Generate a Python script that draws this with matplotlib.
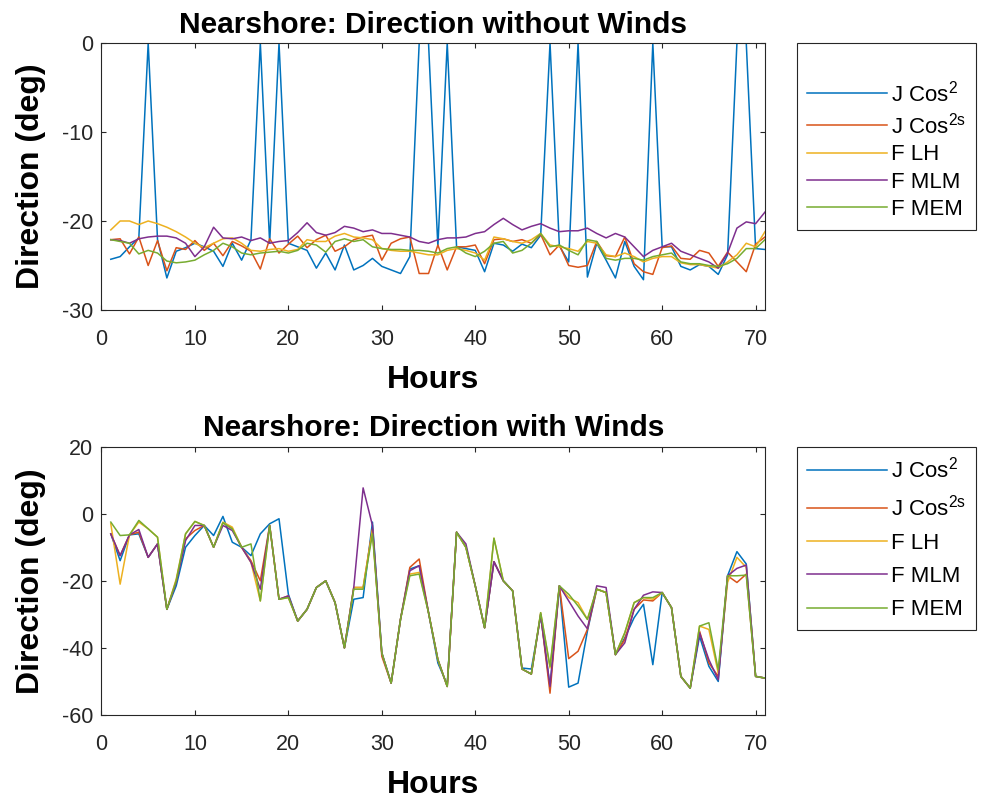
import numpy as np
import matplotlib
matplotlib.use("Agg")
import matplotlib.pyplot as plt

plt.rcParams['font.family'] = ['Liberation Sans', 'DejaVu Sans']
plt.rcParams['mathtext.default'] = 'regular'
plt.rcParams['axes.unicode_minus'] = False

# %% Hourly mean wave direction (deg) at the nearshore buoy
hours = np.arange(1, 72)

labels = ['J Cos$^2$', 'J Cos$^{2s}$', 'F LH', 'F MLM', 'F MEM']
colors = ['#0072BD', '#D95319', '#EDB120', '#7E2F8E', '#77AC30']

# without winds
nw_jcos2 = [-24.3, -24.0, -22.9, -21.9, 0, -22.1, -26.4, -23.4, -23.0, -22.5,
            -22.9, -23.4, -25.1, -22.5, -24.4, -22.1, 0, -22.5, 0, -22.5,
            -22.9, -23.3, -25.3, -23.6, -25.5, -22.7, -25.5, -25.0, -24.2, -25.1,
            -25.5, -25.9, -24.0, 0, 0, -22.9, 0, -22.9, -23.1, -23.3,
            -25.7, -22.5, -22.7, -23.4, -22.6, -23.0, -21.6, 0, -22.8, -24.6,
            0, -26.3, -22.5, -24.4, -26.4, -22.3, -25.1, -26.6, 0, -22.9,
            -22.9, -25.1, -25.5, -24.9, -25.1, -26.0, -23.8, 0, 0, -23.1, -23.2]
nw_jcos2s = [-22.1, -22.0, -23.7, -21.8, -25.0, -22.2, -25.6, -23.0, -23.2, -22.2,
             -23.3, -22.5, -23.9, -22.3, -22.8, -23.4, -25.4, -22.0, -23.6, -22.6,
             -21.7, -23.0, -22.1, -21.6, -23.4, -22.9, -22.1, -21.8, -21.6, -24.4,
             -22.5, -22.0, -21.8, -25.9, -25.9, -22.7, -25.5, -22.9, -22.9, -22.7,
             -24.8, -22.1, -22.0, -22.3, -22.1, -22.5, -21.5, -23.8, -22.7, -25.0,
             -25.2, -25.0, -22.3, -23.9, -24.0, -21.8, -24.8, -25.7, -26.0, -23.0,
             -22.8, -24.2, -24.3, -23.3, -23.6, -25.1, -23.5, -24.6, -25.7, -22.6, -21.8]
nw_flh = [-21.0, -20.0, -20.0, -20.4, -20.0, -20.3, -20.7, -21.2, -21.8, -22.5,
          -23.0, -22.5, -22.0, -21.9, -22.5, -23.3, -23.4, -23.2, -23.1, -23.4,
          -23.2, -22.1, -22.3, -22.3, -21.7, -21.4, -21.8, -21.9, -22.1, -23.1,
          -23.3, -23.4, -23.4, -23.6, -23.8, -23.8, -23.3, -23.1, -23.3, -23.6,
          -24.4, -21.8, -22.0, -22.3, -22.5, -22.1, -21.4, -22.7, -22.9, -23.1,
          -23.4, -22.3, -22.5, -23.8, -24.0, -23.6, -24.0, -24.6, -24.2, -24.0,
          -24.0, -24.7, -24.9, -24.9, -25.1, -25.3, -24.6, -23.8, -22.5, -22.9, -21.2]
nw_fmlm = [-22.1, -22.2, -22.5, -22.0, -21.8, -21.7, -21.7, -21.9, -22.5, -24.0,
           -22.9, -20.7, -21.9, -22.0, -21.8, -22.2, -21.9, -22.5, -22.3, -22.2,
           -21.3, -20.2, -21.3, -21.6, -21.3, -20.6, -20.8, -21.2, -21.0, -21.4,
           -21.4, -21.6, -21.8, -22.3, -22.5, -22.1, -21.9, -21.9, -21.8, -21.4,
           -21.2, -20.4, -19.7, -20.4, -21.0, -20.6, -20.3, -20.8, -21.2, -21.1,
           -21.1, -20.8, -21.4, -21.9, -21.4, -21.8, -22.9, -24.0, -23.3, -22.9,
           -22.5, -23.4, -23.8, -24.2, -24.6, -25.3, -23.6, -20.8, -20.1, -20.3, -19.0]
nw_fmem = [-22.1, -22.3, -22.5, -23.7, -23.3, -23.6, -24.5, -24.7, -24.6, -24.4,
           -23.8, -23.3, -22.5, -22.9, -23.6, -23.8, -23.6, -23.5, -23.4, -23.6,
           -23.3, -22.5, -22.7, -23.5, -22.3, -22.0, -22.3, -22.1, -22.9, -23.1,
           -23.2, -23.2, -23.3, -23.3, -23.4, -23.6, -23.1, -22.9, -23.6, -24.0,
           -23.4, -22.5, -22.3, -23.6, -23.3, -22.5, -21.4, -22.9, -22.7, -23.3,
           -23.8, -22.1, -22.3, -24.2, -24.4, -24.2, -24.2, -24.4, -24.0, -23.8,
           -23.6, -24.6, -24.8, -24.8, -25.0, -25.1, -24.8, -24.2, -23.1, -23.1, -22.1]

# with winds
ww_jcos2 = [-6, -14, -6.3, -6, -13, -9, -28.5, -21.5, -10, -6.5,
            -3.5, -6.5, -0.8, -8.5, -10, -12.5, -6, -3, -1.5, -24,
            -32, -28.5, -22, -20, -26.5, -40, -25.5, -25, -2.5, -41.5,
            -50.5, -31.5, -16.5, -15.5, -29.5, -44.5, -51, -5.5, -10, -21.5,
            -34, -14.3, -20, -23, -46, -46.3, -30.5, -51.5, -21.5, -51.7,
            -50.5, -35, -22.5, -23.5, -42, -37, -31, -27, -45, -23.5,
            -28, -48.5, -52, -36.5, -45.5, -50, -18.5, -11.3, -15, -48.5, -49]
ww_jcos2s = [-6, -12.5, -6.3, -5.5, -13, -9, -28.5, -20, -7.5, -5,
             -3.5, -10, -2.7, -4.5, -10, -14, -20, -3.5, -25.5, -24.5,
             -32, -28.5, -22, -20, -26.5, -40, -22, -22, -4.5, -42.5,
             -50.5, -31.5, -16, -13.5, -29.5, -43.5, -51.5, -5.5, -10, -21.5,
             -34, -14.3, -20, -23, -46.3, -47.8, -30, -53.5, -21.5, -43.2,
             -41, -34.5, -22.5, -23.5, -42, -37.5, -28.5, -25.7, -26, -23.5,
             -28, -48.5, -52, -35, -44.5, -48.5, -18.5, -20.5, -18, -48.5, -49]
ww_flh = [-3, -21, -6.3, -2.5, -4.5, -7, -28.5, -19.5, -6, -2.3,
          -3.5, -10, -2.5, -4, -10, -14.5, -26, -3.5, -25.5, -25,
          -32, -28.5, -22, -20, -26.5, -40, -22, -22, -5, -41.5,
          -50.5, -31.5, -18, -17.5, -29.5, -43.5, -51.5, -5.5, -10, -21.5,
          -34, -7.3, -20, -23, -46.3, -47.8, -29.5, -46, -21.5, -25,
          -26.5, -31.5, -22.5, -23.5, -42, -35.5, -26.5, -25, -25.5, -23.5,
          -28, -48.5, -52, -33.5, -34.5, -47.5, -20.5, -13, -16, -48.5, -49]
ww_fmlm = [-6, -12.5, -6.3, -4.7, -13, -9, -28.5, -20.5, -8, -3.5,
           -3.5, -10, -3.5, -5, -10, -14.5, -22.5, -3.5, -25.5, -24.5,
           -32, -28.5, -22, -20, -26.5, -40, -22, 7.7, -3.5, -41.5,
           -50.5, -31.5, -17, -15.5, -29.5, -43.5, -51.5, -5.5, -9, -21.5,
           -34, -14.3, -20, -23, -46.3, -47.8, -30, -51.5, -21.5, -26,
           -30.5, -34.3, -21.5, -22, -42, -38.5, -28.5, -24.3, -23.3, -23.5,
           -28, -48.5, -52, -35.5, -43.5, -49.5, -18.5, -16.3, -15.3, -48.5, -49]
ww_fmem = [-2.5, -6.5, -6.3, -2, -4.5, -7, -28.5, -20, -6, -2.3,
           -3.5, -10, -2.7, -4.5, -10, -9, -26, -3.5, -25.5, -25,
           -32, -28.5, -22, -20, -26.5, -40, -22.5, -22.5, -6, -41.5,
           -50.5, -31.5, -18.5, -18, -29.5, -43.5, -51.5, -5.5, -10, -21.5,
           -34, -7.3, -20, -23, -46.3, -47.8, -29.5, -45.5, -21.5, -24,
           -27.5, -31.5, -22.5, -23.5, -42, -35.5, -26.5, -25, -25, -23.5,
           -28, -48.5, -52, -33.5, -32.5, -46.5, -18.5, -18.5, -18.3, -48.5, -49]

no_wind = [nw_jcos2, nw_jcos2s, nw_flh, nw_fmlm, nw_fmem]
wind = [ww_jcos2, ww_jcos2s, ww_flh, ww_fmlm, ww_fmem]

# %% Figure
fig = plt.figure(figsize=(9.84, 8.01), dpi=100)
ax1 = fig.add_axes([0.1031, 0.613, 0.6743, 0.3333])
ax2 = fig.add_axes([0.1031, 0.1074, 0.6743, 0.335])


def style_axes(ax, title, ylim, yticks, spacing, top_gap):
    ax.set_xlim(0, 71)
    ax.set_ylim(*ylim)
    ax.set_xticks(range(0, 71, 10))
    ax.set_yticks(yticks)
    ax.tick_params(direction='in', top=True, right=True, length=3.6,
                   labelsize=15.5, colors='#262626')
    ax.tick_params(axis='x', pad=14)
    ax.tick_params(axis='y', pad=6)
    for s in ax.spines.values():
        s.set_color('#262626')
        s.set_linewidth(0.8)
    ax.set_title(title, fontsize=21.5, fontweight='bold', pad=7.5)
    ax.set_xlabel('Hours', fontsize=23, fontweight='bold', labelpad=10.5)
    ax.set_ylabel('Direction (deg)', fontsize=23, fontweight='bold', labelpad=11)
    # blank legend title only pads the top of the box
    leg = ax.legend(loc='upper left', bbox_to_anchor=(1.048, 1.0), borderaxespad=0,
                    fontsize=16, handlelength=3.6, handletextpad=0.2,
                    labelspacing=spacing, borderpad=0.45, fancybox=False, framealpha=1,
                    title=' ' if top_gap else None, title_fontsize=top_gap)
    leg.get_frame().set_edgecolor('#262626')
    leg.get_frame().set_linewidth(0.8)


for series, lab, c in zip(no_wind, labels, colors):
    ax1.plot(hours, series, color=c, lw=1.1, label=lab)
style_axes(ax1, 'Nearshore: Direction without Winds', (-30, 0), [-30, -20, -10, 0],
           0.28, 16)

for series, lab, c in zip(wind, labels, colors):
    ax2.plot(hours, series, color=c, lw=1.1, label=lab)
style_axes(ax2, 'Nearshore: Direction with Winds', (-60, 20), [-60, -40, -20, 0, 20],
           0.55, None)

fig.savefig('out.png', dpi=100)
plt.close()
